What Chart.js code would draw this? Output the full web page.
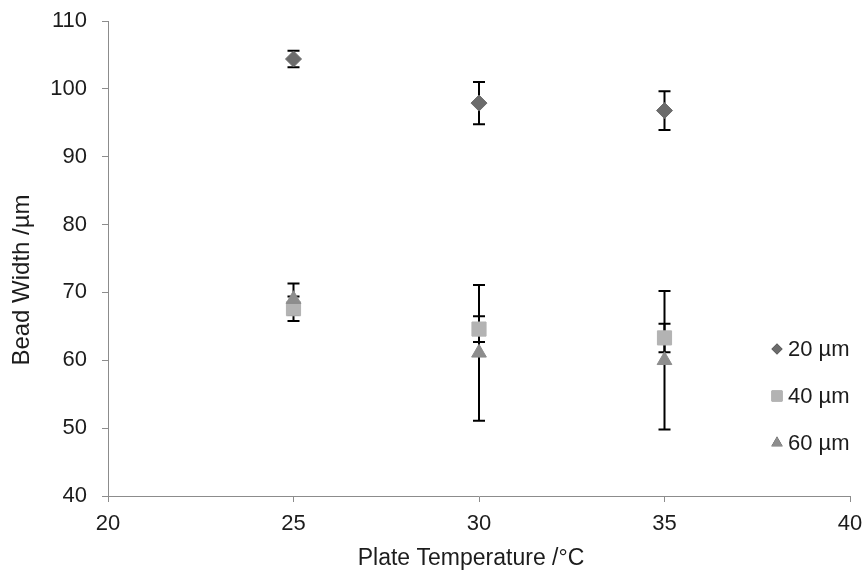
<!DOCTYPE html>
<html>
<head>
<meta charset="utf-8">
<script src="https://cdn.jsdelivr.net/npm/chart.js@4.4.1/dist/chart.umd.min.js"></script>
<style>
  html, body { margin: 0; padding: 0; background: #fff; }
  #wrap { width: 868px; height: 574px; }
</style>
</head>
<body>
<div id="wrap"><canvas id="myChart" width="868" height="574"></canvas></div>
<script>
// plate temperature (x) and bead width mean / error for each nozzle size
const temps = [25, 30, 35];
const width20 = [104.4, 97.9, 96.8];
const err20 = [1.2, 3.1, 2.85];
const width40 = [67.6, 64.6, 63.3];
const err40 = [1.8, 1.9, 2.1];
const width60 = [69.0, 61.1, 60.0];
const err60 = [2.3, 10.0, 10.2];
const seriesNames = ['20 µm', '40 µm', '60 µm'];
const xTicks = [20, 25, 30, 35, 40];
const yTicks = [40, 50, 60, 70, 80, 90, 100, 110];
const xTitle = 'Plate Temperature /°C';
const yTitle = 'Bead Width /µm';

const textColor = '#1c1c1c';
const axisColor = '#8c8c8c';
const fontFamily = '"Liberation Sans", Arial, sans-serif';

function toPoints(ys) {
    return temps.map((t, i) => ({ x: t, y: ys[i] }));
}

// draws the black error bars under the markers
const errorBars = {
    id: 'errorBars',
    beforeDatasetsDraw(chart) {
        const ctx = chart.ctx;
        const xs = chart.scales.x, ys = chart.scales.y;
        ctx.save();
        ctx.strokeStyle = '#000';
        ctx.lineWidth = 2;
        chart.data.datasets.forEach(ds => {
            ds.errors.forEach((e, i) => {
                const px = xs.getPixelForValue(temps[i]);
                const top = ys.getPixelForValue(ds.data[i].y + e);
                const bot = ys.getPixelForValue(ds.data[i].y - e);
                ctx.beginPath();
                ctx.moveTo(px, top); ctx.lineTo(px, bot);
                ctx.moveTo(px - 6, top); ctx.lineTo(px + 6, top);
                ctx.moveTo(px - 6, bot); ctx.lineTo(px + 6, bot);
                ctx.stroke();
            });
        });
        ctx.restore();
    }
};

// legend inside the plot on the right + axis titles placed like the original
const extras = {
    id: 'extras',
    afterDraw(chart) {
        const ctx = chart.ctx;
        const rows = [349, 396, 443];
        ctx.save();
        chart.data.datasets.forEach((ds, i) => {
            Chart.helpers.drawPoint(ctx, {
                pointStyle: ds.pointStyle,
                radius: ds.legendRadius,
                rotation: 0,
                borderWidth: 0
            }, 777, rows[i]);
            ctx.fillStyle = ds.backgroundColor;
            ctx.fill();
            ctx.fillStyle = textColor;
            ctx.font = '22px ' + fontFamily;
            ctx.textBaseline = 'middle';
            ctx.textAlign = 'left';
            ctx.fillText(seriesNames[i], 788, rows[i] + 1);
        });

        ctx.font = '23px ' + fontFamily;
        ctx.textAlign = 'center';
        ctx.textBaseline = 'middle';
        ctx.fillText(xTitle, 471, 559);

        ctx.font = '24px ' + fontFamily;
        ctx.translate(22, 280);
        ctx.rotate(-Math.PI / 2);
        ctx.fillText(yTitle, 0, 0);
        ctx.restore();
    }
};

const ctx = document.getElementById('myChart').getContext('2d');
const myChart = new Chart(ctx, {
    type: 'scatter',
    data: {
        datasets: [{
            label: seriesNames[0],
            data: toPoints(width20),
            errors: err20,
            pointStyle: 'rectRot',
            pointRadius: 8,
            legendRadius: 5.5,
            backgroundColor: '#6b6b6b',
            borderColor: '#6b6b6b',
            borderWidth: 1,
            order: 2
        }, {
            label: seriesNames[1],
            data: toPoints(width40),
            errors: err40,
            pointStyle: 'rect',
            pointRadius: 10,
            legendRadius: 7.5,
            backgroundColor: '#b3b3b3',
            borderColor: '#b3b3b3',
            borderWidth: 1,
            order: 1
        }, {
            label: seriesNames[2],
            data: toPoints(width60),
            errors: err60,
            pointStyle: 'triangle',
            pointRadius: 8.5,
            legendRadius: 6.5,
            backgroundColor: '#8d8d8d',
            borderColor: '#8d8d8d',
            borderWidth: 1,
            order: 0
        }]
    },
    options: {
        responsive: false,
        animation: false,
        layout: { padding: { top: 21, right: 18, left: 0, bottom: 0 } },
        plugins: {
            legend: { display: false },
            tooltip: { enabled: false }
        },
        scales: {
            x: {
                type: 'linear',
                min: 20,
                max: 40,
                afterBuildTicks: s => { s.ticks = xTicks.map(v => ({ value: v })); },
                afterFit: s => { s.height = 78; s.paddingLeft = 0; s.paddingRight = 0; },
                grid: { drawOnChartArea: false, drawTicks: true, tickLength: 6, color: axisColor },
                border: { color: axisColor, width: 1 },
                ticks: {
                    color: textColor,
                    padding: 9,
                    font: { family: fontFamily, size: 22 }
                }
            },
            y: {
                min: 40,
                max: 110,
                afterBuildTicks: s => { s.ticks = yTicks.map(v => ({ value: v })); },
                afterFit: s => { s.width = 108; s.paddingTop = 0; s.paddingBottom = 0; },
                grid: { drawOnChartArea: false, drawTicks: true, tickLength: 6, color: axisColor },
                border: { color: axisColor, width: 1 },
                ticks: {
                    color: textColor,
                    padding: 15,
                    font: { family: fontFamily, size: 22 }
                }
            }
        }
    },
    plugins: [errorBars, extras]
});
</script>
</body>
</html>
